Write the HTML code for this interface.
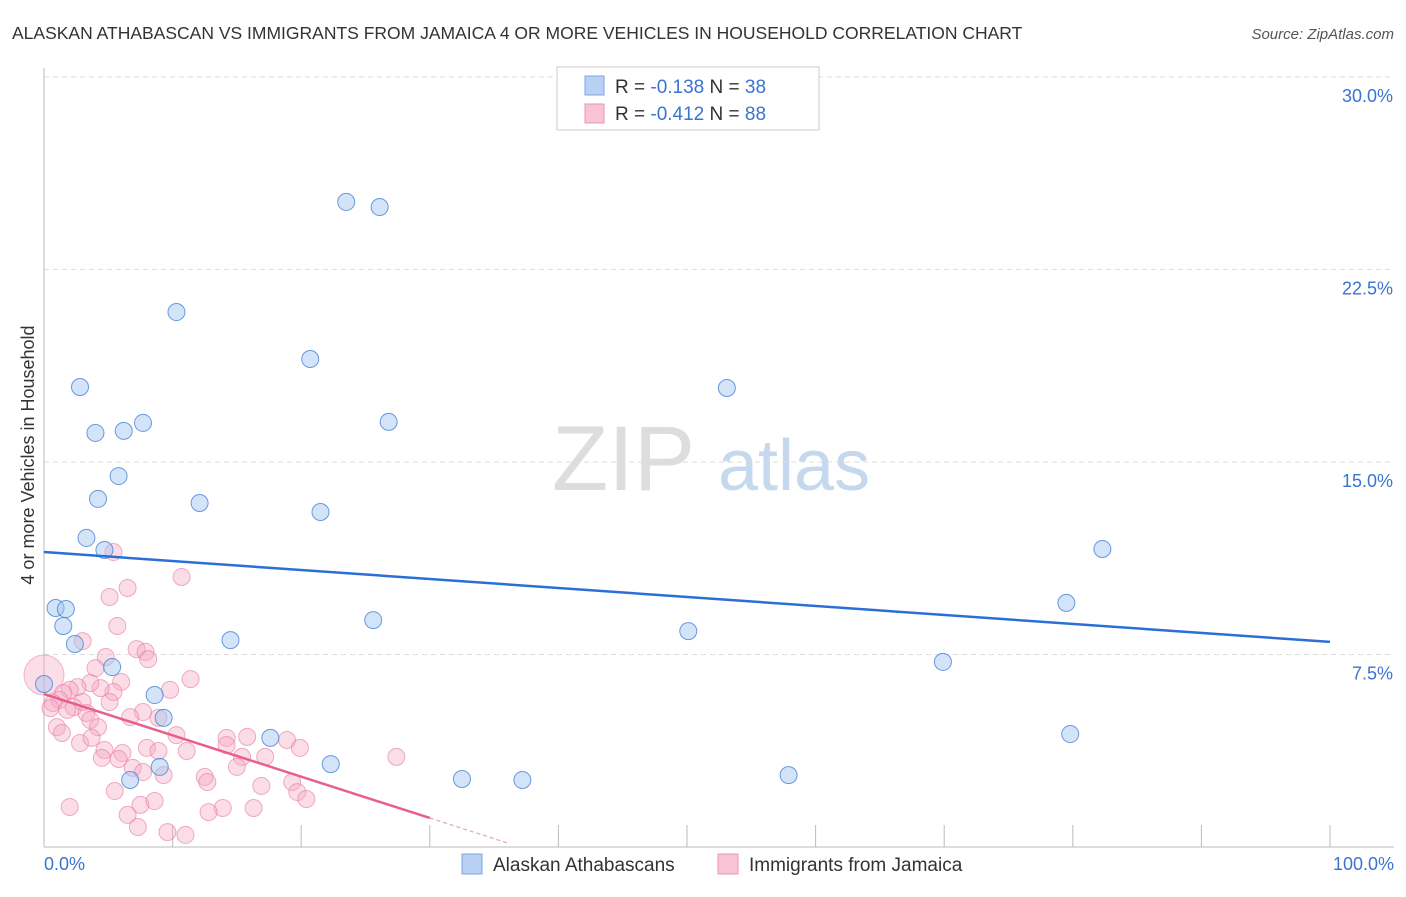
<!DOCTYPE html>
<html><head><meta charset="utf-8"><style>
body{margin:0;background:#fff;font-family:"Liberation Sans",sans-serif;}
svg text{font-family:"Liberation Sans",sans-serif;}
</style></head><body>
<svg width="1406" height="892" xmlns="http://www.w3.org/2000/svg">
<text x="12" y="39" font-size="17.5" fill="#333">ALASKAN ATHABASCAN VS IMMIGRANTS FROM JAMAICA 4 OR MORE VEHICLES IN HOUSEHOLD CORRELATION CHART</text>
<text x="1394" y="39" font-size="15" fill="#555" font-style="italic" text-anchor="end">Source: ZipAtlas.com</text>
<text transform="translate(34,455) rotate(-90)" font-size="18" fill="#333" text-anchor="middle">4 or more Vehicles in Household</text>
<g>
<text x="552" y="490" font-size="92" fill="#ddd" font-family="Liberation Serif,serif">ZIP</text>
<text x="718" y="490" font-size="72" fill="#c5d8ee">atlas</text>
</g>
<g id="grid"></g>
<g id="axes"></g>
<g id="marks"></g>
<g>
<rect x="557" y="67" width="262" height="63" fill="#fff" stroke="#ccc"/>
<rect x="585" y="76" width="19" height="19" fill="#b8d1f3" stroke="#7aa6e0"/>
<rect x="585" y="104" width="19" height="19" fill="#f8c3d4" stroke="#ec95b2"/>
<text x="615" y="93" font-size="19" fill="#333">R = <tspan fill="#3b73d1">-0.138</tspan>   N = <tspan fill="#3b73d1">38</tspan></text>
<text x="615" y="120" font-size="19" fill="#333">R = <tspan fill="#3b73d1">-0.412</tspan>   N = <tspan fill="#3b73d1">88</tspan></text>
</g>
<g>
<rect x="462" y="854" width="20" height="20" fill="#b8d1f3" stroke="#7aa6e0"/>
<text x="493" y="871" font-size="19" fill="#333">Alaskan Athabascans</text>
<rect x="718" y="854" width="20" height="20" fill="#f8c3d4" stroke="#ec95b2"/>
<text x="749" y="871" font-size="19" fill="#333">Immigrants from Jamaica</text>
</g>
</svg>
<script>
const yTicks=[7.5,15,22.5,30];
const yTickLabels=["7.5%","15.0%","22.5%","30.0%"];
const xTickLabels=["0.0%","100.0%"];
const blueX=[23.5,26.1,10.3,20.7,2.8,53.1,7.7,4.0,6.2,26.8,5.8,4.2,12.1,21.5,3.3,4.7,82.3,0.9,1.7,1.5,79.5,25.6,50.1,2.4,14.5,69.9,5.3,0,8.6,9.3,17.6,79.8,22.3,9.0,6.7,32.5,37.2,57.9];
const blueY=[25.13,24.93,20.84,19.01,17.92,17.88,16.52,16.13,16.21,16.56,14.45,13.56,13.40,13.05,12.04,11.57,11.61,9.31,9.27,8.61,9.51,8.84,8.41,7.91,8.06,7.21,7.01,6.35,5.92,5.03,4.25,4.40,3.23,3.12,2.61,2.65,2.61,2.80];
const pinkX=[10.7,6.5,5.1,5.7,3.0,7.2,7.9,8.1,4.8,4.0,6.0,11.4,9.8,5.4,4.4,3.6,2.6,2.0,1.5,5.1,3.0,2.3,1.2,0.7,0.5,1.8,3.3,7.7,6.7,8.9,3.6,4.2,1.0,1.4,10.3,2.8,3.7,14.2,15.8,18.9,14.2,19.9,4.7,8.0,8.9,11.1,6.1,4.5,5.8,15.4,17.2,27.4,15.0,6.9,7.7,9.3,12.5,12.7,19.3,5.5,16.9,19.7,20.4,2.0,7.5,8.6,13.9,12.8,16.3,6.5,7.3,9.6,11.0,5.4];
const pinkY=[10.52,10.09,9.74,8.61,8.02,7.71,7.60,7.32,7.40,6.97,6.43,6.54,6.12,6.04,6.19,6.39,6.23,6.12,6.00,5.65,5.65,5.45,5.73,5.61,5.41,5.34,5.22,5.26,5.06,5.03,4.95,4.67,4.67,4.44,4.36,4.05,4.25,4.25,4.29,4.17,3.97,3.86,3.78,3.86,3.74,3.74,3.66,3.47,3.43,3.51,3.51,3.51,3.12,3.08,2.92,2.80,2.73,2.53,2.53,2.18,2.38,2.14,1.87,1.56,1.64,1.79,1.52,1.36,1.52,1.25,0.78,0.58,0.47,11.49];
const blueTrend=[11.49,7.99];
const pinkTrend=[5.96,1.13];
const NS="http://www.w3.org/2000/svg";
const X=v=>44+v*12.86, Y=v=>847-v*25.67;
function mk(tag,attrs,parent){const e=document.createElementNS(NS,tag);for(const k in attrs)e.setAttribute(k,attrs[k]);document.getElementById(parent).appendChild(e);return e;}
yTicks.forEach((t,i)=>{
 const l=mk('line',{x1:44,x2:1394,y1:Y(t),y2:Y(t),stroke:'#ddd','stroke-dasharray':'5,4'},'grid');
 
 
 const tx=mk('text',{x:1393,y:Y(t)+25,'font-size':18,fill:'#3b73d1','text-anchor':'end'},'grid');
 tx.textContent=yTickLabels[i];
 
 
});
const ax=mk('line',{x1:44,x2:44,y1:68,y2:847,stroke:'#bbb'},'axes');


const bx=mk('line',{x1:44,x2:1394,y1:847,y2:847,stroke:'#bbb'},'axes');


for(let i=1;i<=10;i++){
 const t=mk('line',{x1:X(i*10),x2:X(i*10),y1:825,y2:847,stroke:'#bbb'},'axes');
 
 
}
[[0,'start',44],[100,'end',1394]].forEach((d,i)=>{
 const t=mk('text',{x:d[2],y:870,'font-size':18,fill:'#3b73d1','text-anchor':d[1]},'axes');
 t.textContent=xTickLabels[i];
 
 
});
const big=mk('circle',{cx:X(0),cy:Y(6.7),r:20,fill:'rgba(244,160,190,0.35)',stroke:'rgba(230,120,160,0.5)'},'marks');


pinkX.forEach((v,i)=>{
 const c=mk('circle',{cx:X(v),cy:Y(pinkY[i]),r:8.5,fill:'rgba(246,170,196,0.4)',stroke:'rgba(232,120,160,0.6)'},'marks');
 
 
});
blueX.forEach((v,i)=>{
 const c=mk('circle',{cx:X(v),cy:Y(blueY[i]),r:8.5,fill:'rgba(160,195,240,0.45)',stroke:'rgba(70,130,215,0.8)'},'marks');
 
 
});
const bl=mk('line',{x1:X(0),y1:Y(blueTrend[0]),x2:X(100),y2:Y(blueTrend[1]),stroke:'#2a6fd6','stroke-width':2.5},'marks');


const ps=(pinkTrend[1]-pinkTrend[0])/30;
const pl=mk('line',{x1:X(0),y1:Y(pinkTrend[0]),x2:X(30),y2:Y(pinkTrend[1]),stroke:'#e8608a','stroke-width':2.5},'marks');


const pd=mk('line',{x1:X(30),y1:Y(pinkTrend[1]),x2:X(36.2),y2:Y(pinkTrend[0]+ps*36.2),stroke:'#e8a0b8','stroke-width':1.2,'stroke-dasharray':'4,3'},'marks');


</script>
</body></html>
